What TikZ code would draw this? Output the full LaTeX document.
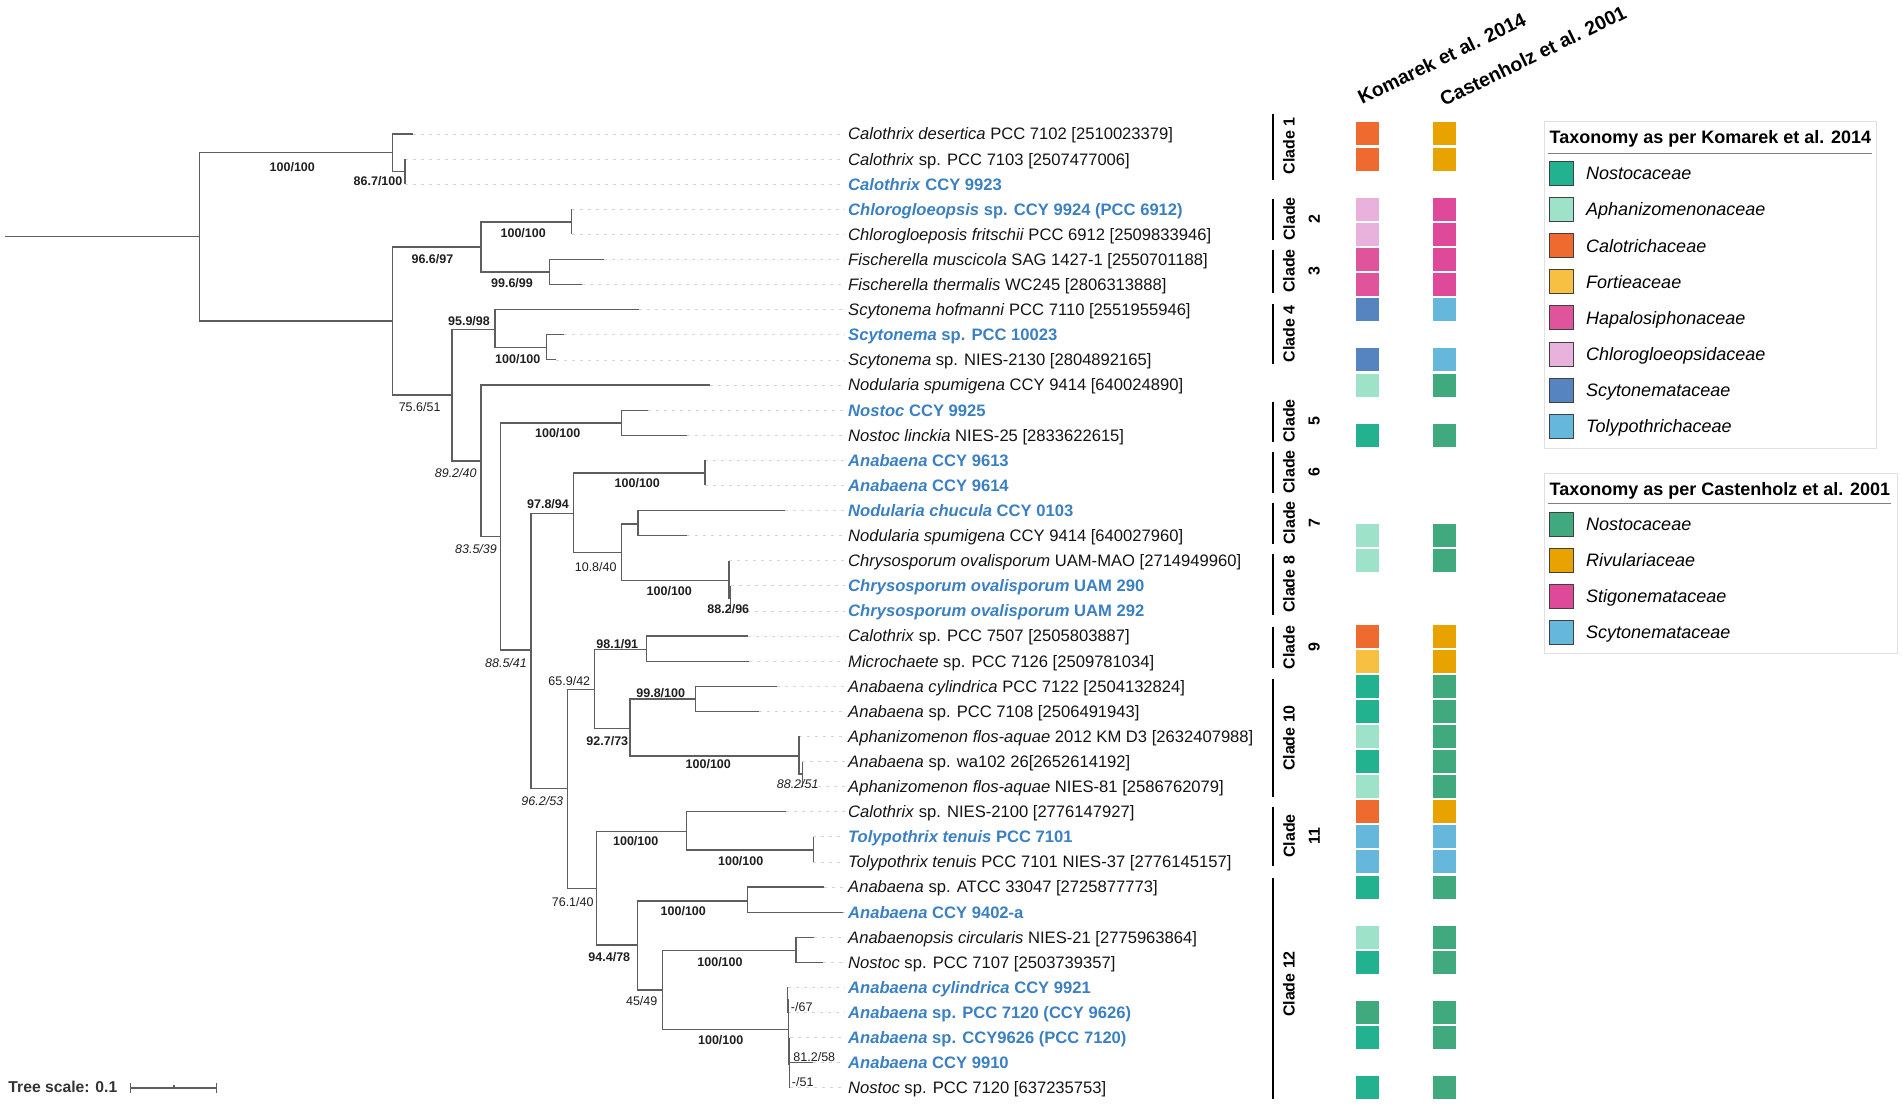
\documentclass[tikz,border=0pt]{standalone}
\usepackage{fontspec}
\setmainfont{Liberation Sans}
\definecolor{branchgray}{HTML}{5E5E5E}
\definecolor{leadergray}{HTML}{D4D4D4}
\definecolor{isoblue}{HTML}{3A80C2}
\definecolor{knost}{HTML}{22B28F}
\definecolor{kaphan}{HTML}{9EE2C9}
\definecolor{kcalo}{HTML}{EE6A2E}
\definecolor{kfort}{HTML}{F8C043}
\definecolor{khapa}{HTML}{E0549B}
\definecolor{kchlo}{HTML}{E9B2DC}
\definecolor{kscyt}{HTML}{5584C1}
\definecolor{ktoly}{HTML}{65B8DC}
\definecolor{cnost}{HTML}{40A97E}
\definecolor{criv}{HTML}{E9A300}
\definecolor{cstig}{HTML}{DE4999}
\definecolor{cscyt}{HTML}{65B8DC}
\begin{document}
\begin{tikzpicture}[x=1pt, y=-1pt,
    branch/.style={draw=branchgray, line width=1.1pt},
    leader/.style={draw=leadergray, line width=0.8pt, dash pattern=on 3pt off 5pt},
    refseq/.style={anchor=west, inner xsep=3pt, inner ysep=0pt, text height=11.9pt, text depth=0pt, text=black!92, font=\fontsize{16.6}{20}\selectfont},
    isolate/.style={refseq, text=isoblue, font=\fontsize{16.6}{20}\selectfont\bfseries},
    boot/.style={inner sep=0pt, text height=9pt, text depth=0pt, text=black!88, font=\fontsize{12.5}{15}\selectfont\bfseries},
    bootlow/.style={boot, font=\fontsize{12.5}{15}\selectfont},
    bootit/.style={boot, font=\fontsize{12.5}{15}\selectfont\itshape},
    cladebar/.style={draw=black, line width=2pt},
    cladename/.style={rotate=90, inner sep=0pt, align=center, font=\fontsize{16}{25}\selectfont\bfseries},
    header/.style={rotate=26, anchor=base west, inner sep=0pt, font=\fontsize{19.5}{24}\selectfont\bfseries},
    legendbox/.style={draw=black!12, line width=1pt},
    legendtitle/.style={anchor=west, inner sep=0pt, text height=12.9pt, text depth=0pt, font=\fontsize{18}{22}\selectfont\bfseries},
    legendkey/.style={draw=black!75, line width=0.9pt, minimum size=24pt, inner sep=0pt},
    legendtext/.style={anchor=west, inner sep=0pt, text height=12.9pt, text depth=0pt, font=\fontsize{18}{22}\selectfont\itshape},
  ]
    \useasboundingbox (0,0) rectangle (1902,1107);

    \def\taxon#1#2#3#4{%
        \pgfmathsetmacro\rowy{134+(#1-1)*25.1}
        \coordinate (tip#1) at (#3,\rowy);
        \node[#2] (lab#1) at (845,\rowy) {#4};
        \draw[leader] (tip#1) -- (lab#1);
    }

    \def\famrow#1#2#3{%
        \pgfmathsetmacro\rowy{134+(#1-1)*25.1}
        \fill[fill=#2] (1356,\rowy-11.5) rectangle (1379,\rowy+11.5);
        \fill[fill=#3] (1433,\rowy-11.5) rectangle (1456,\rowy+11.5);
    }

    \taxon{1}{refseq}{413}{\textit{Calothrix desertica} PCC 7102 [2510023379]}
    \taxon{2}{refseq}{405}{\textit{Calothrix} sp. PCC 7103 [2507477006]}
    \taxon{3}{isolate}{405}{\textit{Calothrix} CCY 9923}
    \taxon{4}{isolate}{571.7}{\textit{Chlorogloeopsis} sp. CCY 9924 (PCC 6912)}
    \taxon{5}{refseq}{571.7}{\textit{Chlorogloeposis fritschii} PCC 6912 [2509833946]}
    \taxon{6}{refseq}{604}{\textit{Fischerella muscicola} SAG 1427-1 [2550701188]}
    \taxon{7}{refseq}{581.7}{\textit{Fischerella thermalis} WC245 [2806313888]}
    \taxon{8}{refseq}{638.5}{\textit{Scytonema hofmanni} PCC 7110 [2551955946]}
    \taxon{9}{isolate}{564.3}{\textit{Scytonema} sp. PCC 10023}
    \taxon{10}{refseq}{556}{\textit{Scytonema} sp. NIES-2130 [2804892165]}
    \taxon{11}{refseq}{710}{\textit{Nodularia spumigena} CCY 9414 [640024890]}
    \taxon{12}{isolate}{647.7}{\textit{Nostoc} CCY 9925}
    \taxon{13}{refseq}{686.7}{\textit{Nostoc linckia} NIES-25 [2833622615]}
    \taxon{14}{isolate}{705}{\textit{Anabaena} CCY 9613}
    \taxon{15}{isolate}{705}{\textit{Anabaena} CCY 9614}
    \taxon{16}{isolate}{785}{\textit{Nodularia chucula} CCY 0103}
    \taxon{17}{refseq}{687.3}{\textit{Nodularia spumigena} CCY 9414 [640027960]}
    \taxon{18}{refseq}{729}{\textit{Chrysosporum ovalisporum} UAM-MAO [2714949960]}
    \taxon{19}{isolate}{730.7}{\textit{Chrysosporum ovalisporum} UAM 290}
    \taxon{20}{isolate}{730.7}{\textit{Chrysosporum ovalisporum} UAM 292}
    \taxon{21}{refseq}{747.7}{\textit{Calothrix} sp. PCC 7507 [2505803887]}
    \taxon{22}{refseq}{748.7}{\textit{Microchaete} sp. PCC 7126 [2509781034]}
    \taxon{23}{refseq}{776.7}{\textit{Anabaena cylindrica} PCC 7122 [2504132824]}
    \taxon{24}{refseq}{759.3}{\textit{Anabaena} sp. PCC 7108 [2506491943]}
    \taxon{25}{refseq}{799}{\textit{Aphanizomenon flos-aquae} 2012 KM D3 [2632407988]}
    \taxon{26}{refseq}{802.3}{\textit{Anabaena} sp. wa102 26[2652614192]}
    \taxon{27}{refseq}{802.3}{\textit{Aphanizomenon flos-aquae} NIES-81 [2586762079]}
    \taxon{28}{refseq}{785.7}{\textit{Calothrix} sp. NIES-2100 [2776147927]}
    \taxon{29}{isolate}{813.3}{\textit{Tolypothrix tenuis} PCC 7101}
    \taxon{30}{refseq}{813.3}{\textit{Tolypothrix tenuis} PCC 7101 NIES-37 [2776145157]}
    \taxon{31}{refseq}{824.3}{\textit{Anabaena} sp. ATCC 33047 [2725877773]}
    \taxon{32}{isolate}{843}{\textit{Anabaena} CCY 9402-a}
    \taxon{33}{refseq}{814}{\textit{Anabaenopsis circularis} NIES-21 [2775963864]}
    \taxon{34}{refseq}{822.7}{\textit{Nostoc} sp. PCC 7107 [2503739357]}
    \taxon{35}{isolate}{787.5}{\textit{Anabaena cylindrica} CCY 9921}
    \taxon{36}{isolate}{787.5}{\textit{Anabaena} sp. PCC 7120 (CCY 9626)}
    \taxon{37}{isolate}{789.5}{\textit{Anabaena} sp. CCY9626 (PCC 7120)}
    \taxon{38}{isolate}{813.3}{\textit{Anabaena} CCY 9910}
    \taxon{39}{refseq}{789.5}{\textit{Nostoc} sp. PCC 7120 [637235753]}

    \coordinate (root) at (5,236.7);
    \coordinate (A) at (199.4,236.7);
    \coordinate (c1) at (392.2,152.7);
    \coordinate (c1s) at (405,171.7);
    \coordinate (B) at (392.2,321);
    \coordinate (C) at (481,247);
    \coordinate (D) at (571.7,222);
    \coordinate (E) at (549.8,272);
    \coordinate (F) at (452,395);
    \coordinate (G) at (495,329.3);
    \coordinate (H) at (546.4,347.4);
    \coordinate (I) at (481,461);
    \coordinate (J) at (500.7,536.7);
    \coordinate (K) at (621.7,423);
    \coordinate (L) at (531,650);
    \coordinate (M) at (573.3,513.3);
    \coordinate (N) at (705,473);
    \coordinate (O) at (621.7,552.3);
    \coordinate (P) at (638,524);
    \coordinate (Q) at (729,580.3);
    \coordinate (R) at (730.7,598.3);
    \coordinate (S) at (567.7,788.3);
    \coordinate (T) at (594.3,689.3);
    \coordinate (V) at (646.7,649.3);
    \coordinate (W) at (630,728.3);
    \coordinate (X) at (695.7,699);
    \coordinate (Y) at (799,756);
    \coordinate (Z) at (802.3,774);
    \coordinate (U) at (596.7,888.3);
    \coordinate (AA) at (686.7,831.7);
    \coordinate (AB) at (813.3,850);
    \coordinate (AC) at (637.7,945);
    \coordinate (AD) at (747.3,901);
    \coordinate (AE) at (662.7,990);
    \coordinate (AF) at (796,950.7);
    \coordinate (AG) at (788.3,1029.3);
    \coordinate (S1) at (787.5,1000);
    \coordinate (S2) at (789.5,1064);

    \draw[branch] (root) -- (A);
    \foreach \p/\q in {A/c1, A/B, c1/tip1, c1/c1s, c1s/tip2, c1s/tip3, B/C, B/F, C/D, C/E,
        D/tip4, D/tip5, E/tip6, E/tip7, F/G, F/I, G/tip8, G/H, H/tip9, H/tip10,
        I/tip11, I/J, J/K, J/L, K/tip12, K/tip13, L/M, L/S, M/N, M/O, N/tip14, N/tip15,
        O/P, O/Q, P/tip16, P/tip17, Q/tip18, Q/R, R/tip19, R/tip20, S/T, S/U, T/V, T/W,
        V/tip21, V/tip22, W/X, W/Y, X/tip23, X/tip24, Y/tip25, Y/Z, Z/tip26, Z/tip27,
        U/AA, U/AC, AA/tip28, AA/AB, AB/tip29, AB/tip30, AC/AD, AC/AE, AD/tip31, AD/tip32,
        AE/AF, AE/AG, AF/tip33, AF/tip34, AG/S1, AG/S2, S1/tip35, S1/tip36,
        S2/tip37, S2/tip38, S2/tip39}
        \draw[branch] (\p) |- (\q);

    \node[boot] (b1) at (292.3,166.7) {100/100};
    \node[boot] (b2) at (378,181) {86.7/100};
    \node[boot] (b3) at (432.4,259) {96.6/97};
    \node[boot] (b4) at (523.2,232.7) {100/100};
    \node[boot] (b5) at (512,283.3) {99.6/99};
    \node[boot] (b6) at (469,320.7) {95.9/98};
    \node[boot] (b7) at (517.8,359.3) {100/100};
    \node[bootlow] (b8) at (419.6,407.3) {75.6/51};
    \node[bootit] (b9) at (455.7,472.7) {89.2/40};
    \node[boot] (b10) at (557.7,432.7) {100/100};
    \node[bootit] (b11) at (476,548.7) {83.5/39};
    \node[boot] (b12) at (548,504.3) {97.8/94};
    \node[boot] (b13) at (637.3,483) {100/100};
    \node[bootlow] (b14) at (595.7,566.7) {10.8/40};
    \node[boot] (b15) at (669.3,590.7) {100/100};
    \node[boot] (b16) at (728.3,609.3) {88.2/96};
    \node[bootit] (b17) at (506,662.7) {88.5/41};
    \node[boot] (b18) at (617.3,643.7) {98.1/91};
    \node[bootlow] (b19) at (569.3,680.7) {65.9/42};
    \node[boot] (b20) at (660.7,693.3) {99.8/100};
    \node[boot] (b21) at (607.3,741) {92.7/73};
    \node[boot] (b22) at (708.3,764.3) {100/100};
    \node[bootit] (b23) at (797.7,784.3) {88.2/51};
    \node[bootit] (b24) at (542.3,801) {96.2/53};
    \node[boot] (b25) at (635.7,841.3) {100/100};
    \node[boot] (b26) at (740.7,860.7) {100/100};
    \node[bootlow] (b27) at (572.7,901.7) {76.1/40};
    \node[boot] (b28) at (683.3,911) {100/100};
    \node[boot] (b29) at (609.3,956.7) {94.4/78};
    \node[bootlow] (b30) at (641.7,1001) {45/49};
    \node[boot] (b31) at (720,961.7) {100/100};
    \node[boot] (b32) at (720.7,1040) {100/100};
    \node[bootlow] (b33) at (801.7,1006.7) {-/67};
    \node[bootlow] (b34) at (814.3,1057.3) {81.2/58};
    \node[bootlow] (b35) at (802.7,1081.7) {-/51};

    \draw[cladebar] (1273,114) -- (1273,180);
    \draw[cladebar] (1273,199) -- (1273,240);
    \draw[cladebar] (1273,250) -- (1273,293);
    \draw[cladebar] (1273,304) -- (1273,363.5);
    \draw[cladebar] (1273,401.7) -- (1273,441.7);
    \draw[cladebar] (1273,451.7) -- (1273,492.7);
    \draw[cladebar] (1273,502.7) -- (1273,544);
    \draw[cladebar] (1273,554) -- (1273,615);
    \draw[cladebar] (1273,626.7) -- (1273,668.3);
    \draw[cladebar] (1273,679.3) -- (1273,796.7);
    \draw[cladebar] (1273,806.7) -- (1273,866);
    \draw[cladebar] (1273,878.3) -- (1273,1099.3);

    \node[cladename] (clade1) at (1289,146) {Clade 1};
    \node[cladename] (clade2) at (1301.5,219) {Clade\\2};
    \node[cladename] (clade3) at (1301.5,271) {Clade\\3};
    \node[cladename] (clade4) at (1289,334) {Clade 4};
    \node[cladename] (clade5) at (1301.5,421) {Clade\\5};
    \node[cladename] (clade6) at (1301.5,472) {Clade\\6};
    \node[cladename] (clade7) at (1301.5,523) {Clade\\7};
    \node[cladename] (clade8) at (1289,584.5) {Clade 8};
    \node[cladename] (clade9) at (1301.5,647.5) {Clade\\9};
    \node[cladename] (clade10) at (1289,738) {Clade 10};
    \node[cladename] (clade11) at (1301.5,836) {Clade\\11};
    \node[cladename] (clade12) at (1289,984) {Clade 12};

    \node[header] (komarek) at (1362,105) {Komarek et al. 2014};
    \node[header] (castenholz) at (1444,107) {Castenholz et al. 2001};

    \foreach \r/\ka/\ca in {1/kcalo/criv, 2/kcalo/criv, 4/kchlo/cstig, 5/kchlo/cstig,
        6/khapa/cstig, 7/khapa/cstig, 8/kscyt/cscyt, 10/kscyt/cscyt, 11/kaphan/cnost,
        13/knost/cnost, 17/kaphan/cnost, 18/kaphan/cnost, 21/kcalo/criv, 22/kfort/criv,
        23/knost/cnost, 24/knost/cnost, 25/kaphan/cnost, 26/knost/cnost, 27/kaphan/cnost,
        28/kcalo/criv, 29/ktoly/cscyt, 30/ktoly/cscyt, 31/knost/cnost, 33/kaphan/cnost,
        34/knost/cnost, 36/cnost/cnost, 37/knost/cnost, 39/knost/cnost}
        {\famrow{\r}{\ka}{\ca}}

    \draw[legendbox] (1544,122) rectangle (1876,448.3);
    \node[legendtitle] (ktitle) at (1549.5,136.7) {Taxonomy as per Komarek et al. 2014};
    \draw[draw=black!50, line width=1.5pt] (1547.6,153.3) -- (1872,153.3);
    \foreach \i/\col/\fam in {0/knost/Nostocaceae, 1/kaphan/Aphanizomenonaceae,
        2/kcalo/Calotrichaceae, 3/kfort/Fortieaceae, 4/khapa/Hapalosiphonaceae,
        5/kchlo/Chlorogloeopsidaceae, 6/kscyt/Scytonemataceae, 7/ktoly/Tolypothrichaceae} {
        \node[legendkey, fill=\col] (kkey\i) at (1561.6,{173.3+\i*36.15}) {};
        \node[legendtext] (klab\i) at (1586,{173.3+\i*36.15}) {\fam};
    }

    \draw[legendbox] (1544,473.3) rectangle (1897,653.3);
    \node[legendtitle] (ctitle) at (1549.5,489.3) {Taxonomy as per Castenholz et al. 2001};
    \draw[draw=black!50, line width=1.5pt] (1547.6,503.3) -- (1891,503.3);
    \foreach \i/\col/\fam in {0/cnost/Nostocaceae, 1/criv/Rivulariaceae,
        2/cstig/Stigonemataceae, 3/cscyt/Scytonemataceae} {
        \node[legendkey, fill=\col] (ckey\i) at (1561.6,{524+\i*36.1}) {};
        \node[legendtext] (clab\i) at (1586,{524+\i*36.1}) {\fam};
    }

    \node[anchor=west, inner sep=0pt, text height=11.2pt, text depth=0pt, text=black!80,
        font=\fontsize{15.7}{19}\selectfont\bfseries] (scale) at (8.3,1086.7) {Tree scale: 0.1};
    \draw[branch] (130.7,1088) -- (216.7,1088);
    \draw[branch] (130.7,1083) -- (130.7,1093);
    \draw[branch] (216.7,1083) -- (216.7,1093);
    \draw[branch] (174,1088) -- (174,1085);
\end{tikzpicture}
\end{document}
